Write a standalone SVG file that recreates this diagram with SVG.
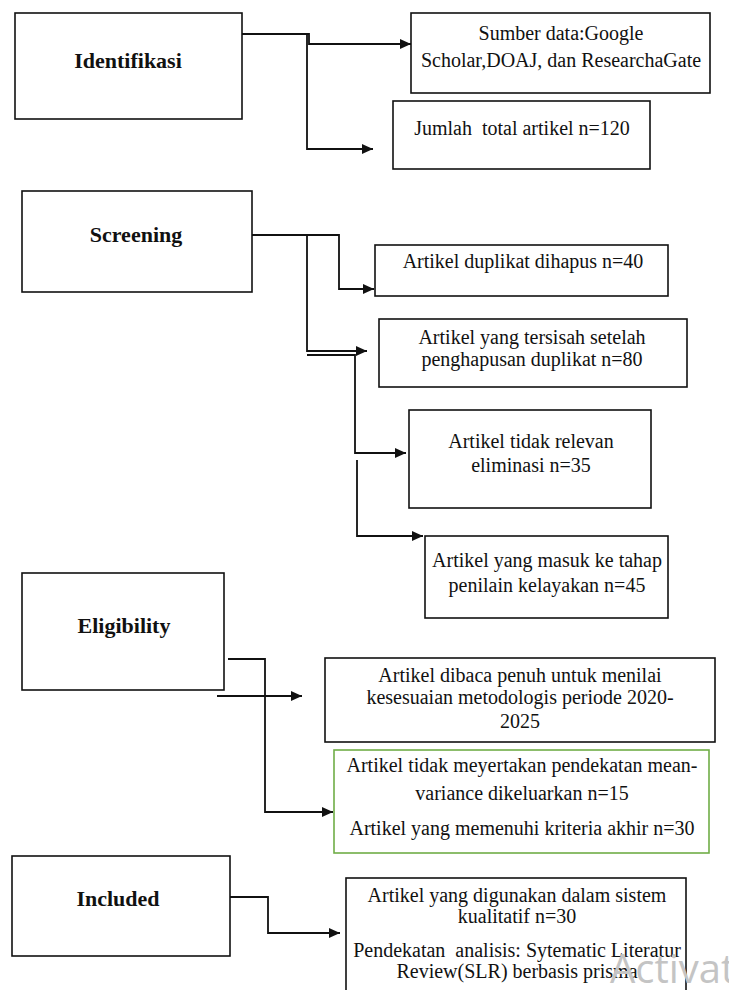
<svg xmlns="http://www.w3.org/2000/svg" width="729" height="990" viewBox="0 0 729 990">
<style>
.box{fill:#fff;stroke:#111;stroke-width:1.6}
.gbox{fill:#fff;stroke:#70ad47;stroke-width:1.6}
.t{font-family:"Liberation Serif","Times New Roman",serif;font-size:20px;fill:#111;text-anchor:middle;white-space:pre}
.h{font-family:"Liberation Serif","Times New Roman",serif;font-size:22px;font-weight:bold;fill:#111;text-anchor:middle}
.c{fill:none;stroke:#111;stroke-width:1.8}
.wm{font-family:"Open Sans","Noto Sans",sans-serif;font-size:40px;fill:#c4c4c4}
</style>
<defs>
<marker id="ah" markerUnits="userSpaceOnUse" markerWidth="11" markerHeight="10" refX="11" refY="5" orient="auto">
<path d="M0,0 L11,5 L0,10 z" fill="#111"/>
</marker>
</defs>
<rect width="729" height="990" fill="#fff"/>

<g id="connectors">
<path class="c" d="M242,34 H309 V44 H411" marker-end="url(#ah)"/>
<path class="c" d="M307,34 V149 H373" marker-end="url(#ah)"/>
<path class="c" d="M252,235 H339 V289 H374" marker-end="url(#ah)"/>
<path class="c" d="M307,235 V351 H367" marker-end="url(#ah)"/>
<path class="c" d="M307,355 H355 V453 H406" marker-end="url(#ah)"/>
<path class="c" d="M357,460 V536 H423" marker-end="url(#ah)"/>
<path class="c" d="M228,659 H265 V812 H333" marker-end="url(#ah)"/>
<path class="c" d="M217,696 H302" marker-end="url(#ah)"/>
<path class="c" d="M230,897 H268 V933 H340" marker-end="url(#ah)"/>
</g>

<g id="identifikasi">
<rect class="box" x="15" y="13" width="227" height="106"/>
<text class="h" x="128" y="68">Identifikasi</text>
</g>
<g id="sumber">
<rect class="box" x="411" y="13" width="299" height="80"/>
<text class="t" x="561" y="40">Sumber data:Google</text>
<text class="t" x="561" y="67">Scholar,DOAJ, dan ResearchaGate</text>
</g>
<g id="jumlah">
<rect class="box" x="393" y="101" width="257" height="68"/>
<text class="t" x="522" y="135" xml:space="preserve">Jumlah  total artikel n=120</text>
</g>

<g id="screening">
<rect class="box" x="22" y="191" width="230" height="101"/>
<text class="h" x="136" y="242">Screening</text>
</g>
<g id="duplikat">
<rect class="box" x="375" y="245" width="293" height="51"/>
<text class="t" x="523" y="268">Artikel duplikat dihapus n=40</text>
</g>
<g id="tersisah">
<rect class="box" x="379" y="319" width="308" height="68"/>
<text class="t" x="532" y="344">Artikel yang tersisah setelah</text>
<text class="t" x="532" y="366">penghapusan duplikat n=80</text>
</g>
<g id="tidak-relevan">
<rect class="box" x="409" y="410" width="242" height="98"/>
<text class="t" x="531" y="448">Artikel tidak relevan</text>
<text class="t" x="531" y="472">eliminasi n=35</text>
</g>
<g id="masuk">
<rect class="box" x="425" y="536" width="243" height="82"/>
<text class="t" x="547" y="567">Artikel yang masuk ke tahap</text>
<text class="t" x="547" y="592">penilain kelayakan n=45</text>
</g>

<g id="eligibility">
<rect class="box" x="22" y="573" width="202" height="117"/>
<text class="h" x="124" y="633">Eligibility</text>
</g>
<g id="dibaca">
<rect class="box" x="325" y="658" width="390" height="84"/>
<text class="t" x="520" y="682">Artikel dibaca penuh untuk menilai</text>
<text class="t" x="520" y="704">kesesuaian metodologis periode 2020-</text>
<text class="t" x="520" y="728">2025</text>
</g>
<g id="kriteria">
<rect class="gbox" x="334" y="750" width="375" height="103"/>
<text class="t" x="522" y="772">Artikel tidak meyertakan pendekatan mean-</text>
<text class="t" x="522" y="800">variance dikeluarkan n=15</text>
<text class="t" x="522" y="835">Artikel yang memenuhi kriteria akhir n=30</text>
</g>

<g id="included">
<rect class="box" x="12" y="856" width="218" height="100"/>
<text class="h" x="118" y="906">Included</text>
</g>
<g id="final">
<rect class="box" x="346" y="878" width="340" height="130"/>
<text class="t" x="517" y="902">Artikel yang digunakan dalam sistem</text>
<text class="t" x="517" y="923">kualitatif n=30</text>
<text class="t" x="517" y="957" xml:space="preserve">Pendekatan  analisis: Sytematic Literatur</text>
<text class="t" x="517" y="978">Review(SLR) berbasis prisma</text>
</g>

<text class="wm" x="610" y="983">Activat</text>
</svg>
